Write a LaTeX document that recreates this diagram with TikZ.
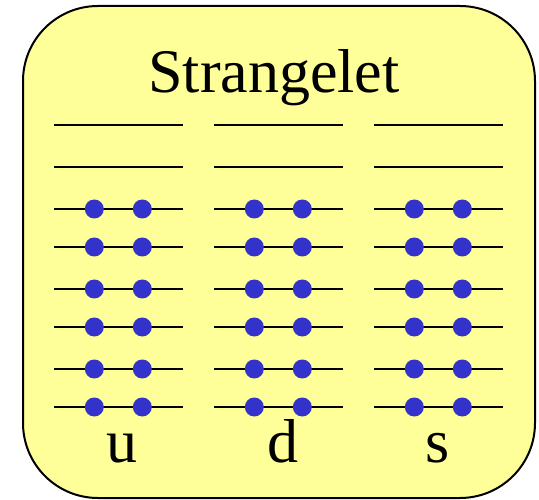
\documentclass[tikz,border=0pt]{standalone}
\usepackage{fontspec}
\setmainfont{Liberation Serif}
\definecolor{boxfill}{HTML}{FFFF99}
\definecolor{dotblue}{HTML}{3333CC}
\tikzset{
  frame/.style={draw=black, line width=2pt, fill=boxfill, rounded corners=75pt},
  level/.style={draw=black, line width=2pt},
  quark/.style={circle, fill=dotblue, inner sep=0pt, minimum size=19pt},
  lbl/.style={font=\fontsize{62}{70}\selectfont, inner sep=0pt, anchor=base}
}
\begin{document}
\begin{tikzpicture}[x=1pt,y=-1pt]
\useasboundingbox (0,0) rectangle (539,500);
\draw[frame] (23,6) rectangle (535,498);
\node[lbl] (title) at (274,93) {Strangelet};
\foreach \c/\x in {1/54,2/214,3/374}{
  \foreach \r/\y in {1/125,2/167}{
    \coordinate (a\c\r) at (\x,\y);
    \coordinate (b\c\r) at (\x+129,\y);
    \draw[level] (a\c\r) -- (b\c\r);
  }
  \foreach \r/\y in {3/209,4/247,5/289,6/327,7/369,8/407}{
    \coordinate (a\c\r) at (\x,\y);
    \coordinate (b\c\r) at (\x+129,\y);
    \draw[level] (a\c\r) -- (b\c\r);
    \node[quark] (p\c\r) at (\x+40.3,\y) {};
    \node[quark] (q\c\r) at (\x+88.3,\y) {};
  }
}
\node[lbl] (u) at (122,462) {u};
\node[lbl] (d) at (283,462) {d};
\node[lbl] (s) at (438,462) {s};
\end{tikzpicture}
\end{document}
